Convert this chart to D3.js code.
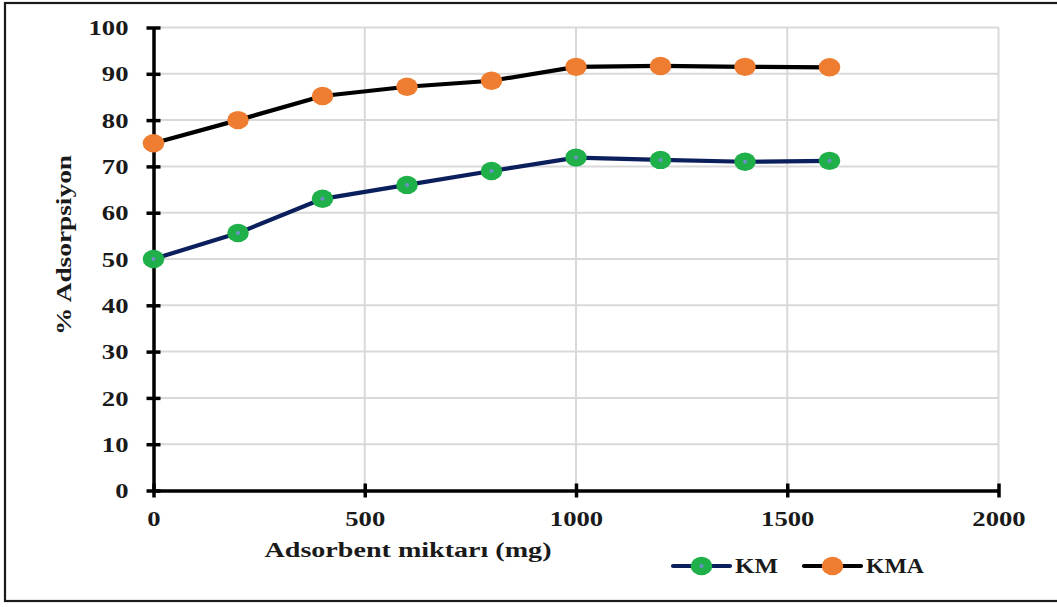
<!DOCTYPE html>
<html>
<head>
<meta charset="utf-8">
<script src="https://cdn.jsdelivr.net/npm/d3@7/dist/d3.min.js"></script>
<style>
  html, body { margin: 0; padding: 0; background: #fff; }
  svg { display: block; }
  svg text { font-family: "Liberation Serif", "Times New Roman", serif; font-weight: bold; fill: #1a1a1a; }
</style>
</head>
<body>
<svg id="chart" width="1057" height="607"></svg>
<script>
// Adsorbent amount (mg) and % adsorption for each material
const doses = [0, 200, 400, 600, 800, 1000, 1200, 1400, 1600];
const kmValues = [50.0, 55.6, 63.0, 66.0, 69.0, 71.9, 71.4, 71.0, 71.2];
const kmaValues = [75.0, 80.0, 85.2, 87.2, 88.5, 91.5, 91.7, 91.5, 91.4];
const xTicks = [0, 500, 1000, 1500, 2000];
const yTicks = [0, 10, 20, 30, 40, 50, 60, 70, 80, 90, 100];
const seriesNames = ["KM", "KMA"];

const svg = d3.select("#chart");
const W = 1057, H = 607;

// widen glyphs horizontally (wide typeset look)
function stretch(sel, factor) {
  sel.each(function () {
    const w = this.getComputedTextLength();
    d3.select(this).attr("textLength", w * factor).attr("lengthAdjust", "spacingAndGlyphs");
  });
}

// outer frame
svg.append("rect").attr("x", 5).attr("y", 3).attr("width", W + 10).attr("height", 598)
  .attr("fill", "none").attr("stroke", "#1a1a1a").attr("stroke-width", 2.2);

const x = d3.scaleLinear().domain([0, 2000]).range([153.5, 998.5]);
const y = d3.scaleLinear().domain([0, 100]).range([490.5, 27.5]);

// grid
const grid = svg.append("g").attr("stroke", "#d9d9d9").attr("stroke-width", 2);
grid.selectAll("line.h").data(yTicks.filter(d => d > 0)).join("line")
  .attr("x1", x(0)).attr("x2", x(2000)).attr("y1", d => y(d)).attr("y2", d => y(d));
grid.selectAll("line.v").data(xTicks.filter(d => d > 0)).join("line")
  .attr("x1", d => x(d)).attr("x2", d => x(d)).attr("y1", y(0)).attr("y2", y(100));

// axes
const xAxis = d3.axisBottom(x).tickValues(xTicks).tickSize(0).tickPadding(21).tickFormat(d3.format("d"));
const yAxis = d3.axisLeft(y).tickValues(yTicks).tickSize(0).tickPadding(25).tickFormat(d3.format("d"));

const gx = svg.append("g").attr("transform", `translate(0,${y(0)})`).call(xAxis);
const gy = svg.append("g").attr("transform", `translate(${x(0)},0)`).call(yAxis);
[gx, gy].forEach(g => {
  g.attr("font-family", null).attr("font-size", null);
  g.select(".domain").attr("stroke", "#000").attr("stroke-width", 3.5);
  g.selectAll("text").attr("font-size", 20.5).attr("fill", "#1a1a1a");
});
// cross ticks
gx.selectAll(".tick").append("line").attr("y1", -7).attr("y2", 7)
  .attr("stroke", "#000").attr("stroke-width", 3.5);
gy.selectAll(".tick").append("line").attr("x1", -7).attr("x2", 7)
  .attr("stroke", "#000").attr("stroke-width", 3.5);
gy.selectAll(".tick text").attr("dy", "0.35em");
stretch(gx.selectAll(".tick text"), 1.3);
stretch(gy.selectAll(".tick text"), 1.3);

// axis titles
svg.append("text").attr("x", 408).attr("y", 557).attr("text-anchor", "middle")
  .attr("font-size", 20).attr("textLength", 287).attr("lengthAdjust", "spacingAndGlyphs")
  .text("Adsorbent miktarı (mg)");
svg.append("text").attr("transform", "translate(71,245) rotate(-90)").attr("text-anchor", "middle")
  .attr("font-size", 21).attr("textLength", 180).attr("lengthAdjust", "spacingAndGlyphs")
  .text("% Adsorpsiyon");

// series
const series = [
  { name: seriesNames[0], values: kmValues, line: "#0b1f5c", fill: "#1fb04a", dot: "#6f8fc9" },
  { name: seriesNames[1], values: kmaValues, line: "#000000", fill: "#ee7d31", dot: null }
];
const lineGen = d3.line().x((d, i) => x(doses[i])).y(d => y(d));

series.forEach(s => {
  svg.append("path").datum(s.values).attr("d", lineGen)
    .attr("fill", "none").attr("stroke", s.line).attr("stroke-width", 4.2).attr("stroke-linejoin", "round");
  svg.append("g").selectAll("ellipse").data(s.values).join("ellipse")
    .attr("cx", (d, i) => x(doses[i])).attr("cy", d => y(d))
    .attr("rx", 10.8).attr("ry", 9.2).attr("fill", s.fill);
  if (s.dot) {
    svg.append("g").selectAll("circle").data(s.values).join("circle")
      .attr("cx", (d, i) => x(doses[i])).attr("cy", d => y(d))
      .attr("r", 2).attr("fill", s.dot);
  }
});

// legend
const legendItems = [{ s: series[0], x0: 673, w: 43 }, { s: series[1], x0: 804, w: 58 }];
legendItems.forEach(({ s, x0, w }) => {
  const g = svg.append("g").attr("transform", `translate(${x0},566)`);
  g.append("line").attr("x1", 0).attr("x2", 57).attr("stroke", s.line).attr("stroke-width", 4.2)
    .attr("stroke-linecap", "round");
  g.append("ellipse").attr("cx", 28.5).attr("rx", 10.8).attr("ry", 9.2).attr("fill", s.fill);
  if (s.dot) g.append("circle").attr("cx", 28.5).attr("r", 2).attr("fill", s.dot);
  g.append("text").attr("x", 62).attr("y", 7).attr("font-size", 20)
    .attr("textLength", w).attr("lengthAdjust", "spacingAndGlyphs").text(s.name);
});
</script>
</body>
</html>
